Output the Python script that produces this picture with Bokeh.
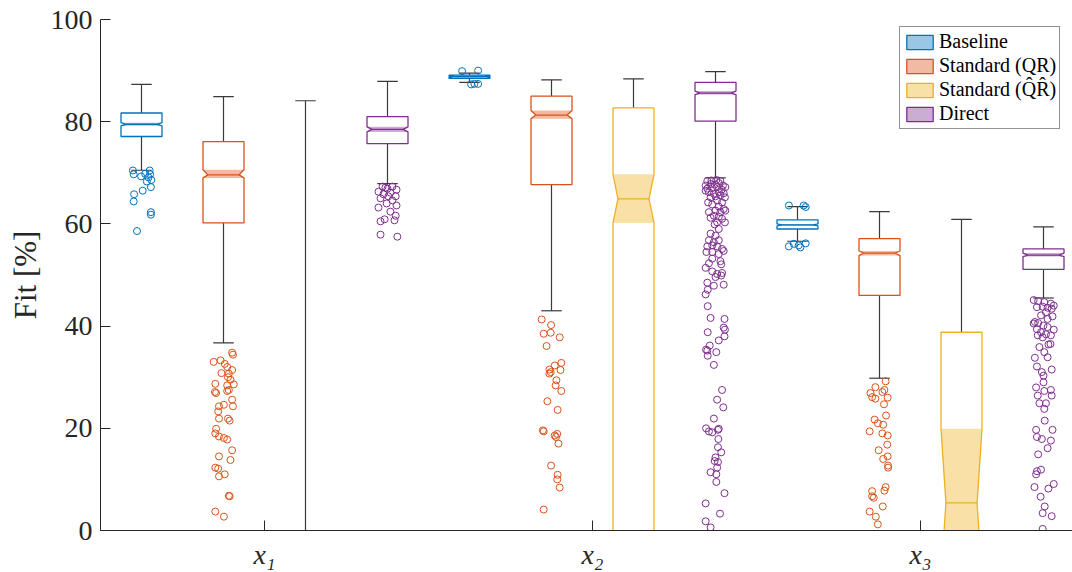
from bokeh.plotting import figure
from bokeh.models import Range1d, FixedTicker, Legend, LegendItem
from bokeh.embed import file_html
from bokeh.resources import INLINE

GROUPS = ["x₁", "x₂", "x₃"]
SERIES = ["Baseline", "Standard (QR)", "Standard (Q̂R̂)", "Direct"]
COLORS = ["#0072BD", "#D95319", "#EDB120", "#7E2F8E"]
Y_TICKS = [0, 20, 40, 60, 80, 100]
Y_LABEL = "Fit [%]"

# box statistics per series, one value per group (x1, x2, x3)
BASE_WLO = [70.5, 87.7, 56.6]
BASE_Q1 = [77.1, 88.5, 59.0]
BASE_NLO = [79.2, 88.75, 59.6]
BASE_MED = [79.5, 88.85, 59.8]
BASE_NHI = [79.8, 88.95, 60.0]
BASE_Q3 = [81.7, 89.1, 60.8]
BASE_WHI = [87.3, 89.5, 63.4]

QR_WLO = [36.7, 43.0, 29.8]
QR_Q1 = [60.2, 67.7, 46.0]
QR_NLO = [69.0, 80.6, 53.8]
QR_MED = [69.6, 81.3, 54.3]
QR_NHI = [70.6, 82.2, 54.7]
QR_Q3 = [76.1, 85.0, 57.1]
QR_WHI = [84.9, 88.2, 62.4]

QRH_WLO = [-60.0, -40.0, -35.0]
QRH_Q1 = [-45.0, -25.0, -20.0]
QRH_NLO = [-30.0, 60.2, -9.1]
QRH_MED = [-22.0, 64.9, 5.4]
QRH_NHI = [-14.0, 69.7, 19.9]
QRH_Q3 = [-5.0, 82.7, 38.8]
QRH_WHI = [84.1, 88.4, 60.9]

DIR_WLO = [67.9, 69.0, 45.5]
DIR_Q1 = [75.7, 80.1, 51.1]
DIR_NLO = [78.0, 85.3, 53.6]
DIR_MED = [78.5, 85.6, 53.9]
DIR_NHI = [79.0, 86.0, 54.3]
DIR_Q3 = [81.0, 87.7, 55.1]
DIR_WHI = [87.9, 89.8, 59.4]

# outliers: values and horizontal jitter (fraction of box width)
BASE_X1_OUT = [70.45, 70.45, 69.7, 69.3, 69.8, 69.7, 69.1, 68.3, 68.6, 66.5, 67.2, 65.8, 64.4, 62.3, 61.8, 58.6]
BASE_X1_JIT = [-0.21, 0.20, -0.19, -0.01, 0.09, 0.21, 0.17, 0.13, 0.24, 0.03, 0.23, -0.18, -0.19, 0.23, 0.23, -0.11]
BASE_X2_OUT = [89.9, 90.0, 87.3, 87.4, 87.4]
BASE_X2_JIT = [-0.18, 0.21, 0.04, 0.12, 0.21]
BASE_X3_OUT = [63.6, 63.6, 63.3, 55.6, 56.1, 55.8, 56.2, 55.4]
BASE_X3_JIT = [-0.21, 0.15, 0.20, -0.21, -0.09, 0.03, 0.20, 0.07]

QR_X1_OUT = [34.8, 34.4, 33.0, 33.3, 32.6, 32.0, 31.4, 30.8, 30.7, 30.0, 29.5, 28.7, 28.6, 28.4,
             27.5, 27.3, 27.1, 26.9, 25.6, 24.3, 24.3, 24.6, 23.3, 21.9, 21.9, 21.5, 19.9, 19.0,
             18.4, 18.1, 17.8, 15.7, 14.5, 13.8, 12.3, 12.1, 10.6, 11.0, 6.8, 6.7, 3.7, 2.7]
QR_X1_JIT = [0.21, 0.23, -0.24, -0.07, 0.03, 0.09, 0.21, -0.05, 0.13, 0.11, 0.17, -0.20, 0.25, 0.09,
             0.13, 0.09, -0.21, -0.18, 0.21, 0.23, -0.11, 0.01, -0.13, -0.11, 0.11, 0.15, -0.18, -0.20,
             -0.11, 0.01, 0.09, 0.21, -0.11, 0.17, -0.20, -0.13, -0.11, 0.03, 0.13, 0.15, -0.20, 0.01]
QR_X2_OUT = [41.3, 40.2, 38.5, 38.7, 37.8, 36.1, 32.8, 32.3, 31.5, 31.0, 31.4, 30.7, 29.4, 28.4,
             27.3, 25.3, 23.6, 19.6, 19.4, 18.6, 18.9, 18.3, 17.0, 12.7, 10.9, 10.0, 8.4, 4.1]
QR_X2_JIT = [-0.24, -0.01, -0.19, -0.02, 0.20, -0.12, 0.24, 0.08, -0.05, -0.02, 0.22, -0.05, 0.12, 0.10,
             0.24, -0.10, 0.15, -0.21, -0.19, 0.08, 0.14, 0.11, 0.17, -0.01, 0.15, 0.14, 0.20, -0.19]
QR_X3_OUT = [29.2, 28.05, 26.9, 26.1, 27.1, 27.5, 25.8, 26.0, 24.7, 22.5, 21.7, 21.0, 20.7, 19.4,
             19.0, 18.6, 16.8, 15.7, 14.5, 14.0, 12.7, 12.3, 8.5, 7.8, 7.7, 6.4, 6.7, 4.7, 3.7, 2.7, 1.2]
QR_X3_JIT = [0.15, -0.10, -0.22, -0.18, 0.07, 0.12, -0.10, 0.20, 0.11, 0.16, -0.12, -0.04, 0.09, -0.24,
             0.07, 0.20, 0.19, -0.02, 0.20, 0.09, 0.21, 0.21, 0.15, 0.12, -0.18, -0.14, -0.18, 0.08, -0.24, -0.09, -0.04]

DIR_X1_OUT = [67.3, 67.3, 66.9, 66.7, 66.3, 66.1, 65.8, 65.4, 65.0, 64.6, 64.0, 63.6, 63.2, 62.4,
              61.6, 60.9, 60.5, 60.7, 57.9, 57.5, 65.4, 67.1]
DIR_X1_JIT = [-0.12, 0.12, 0.00, 0.22, -0.22, 0.07, -0.10, 0.20, -0.17, 0.12, -0.02, 0.22, -0.22, 0.07,
              0.20, -0.07, -0.17, 0.17, -0.17, 0.24, 0.02, -0.05]
DIR_X2_OUT = [68.4, 68.5, 68.6, 68.4, 67.5, 67.8, 67.7, 68.0, 67.5, 66.9, 67.0, 67.2, 66.7, 67.2,
              66.2, 65.9, 66.2, 66.0, 66.5, 65.2, 65.4, 65.6, 65.2, 64.2, 64.6, 64.2, 63.8, 63.4,
              62.9, 62.6, 62.3, 62.3, 62.6, 61.6, 61.4, 61.2, 61.0, 60.3, 60.3, 59.9, 59.0, 58.1,
              57.7, 56.8, 56.4, 56.8, 55.6, 55.8, 55.6, 55.1,
              54.5, 54.5, 54.7, 54.1, 53.2, 52.3, 52.7, 52.1, 51.4, 50.7, 50.2, 49.6, 50.4, 49.9,
              48.5, 47.9, 48.1, 47.1, 46.2, 43.9, 41.6, 41.4, 39.7, 39.3, 38.0, 37.2, 38.8, 36.2,
              35.4, 35.2, 34.9, 34.2, 32.4, 27.5, 25.6, 24.1, 21.9, 20.0, 19.4, 19.2, 19.9, 19.7,
              17.9, 16.3, 15.3, 14.3, 13.6, 13.4, 12.3, 11.4, 11.0, 9.5, 7.3, 5.3, 3.3, 1.8, 0.6]
DIR_X2_JIT = [-0.20, -0.10, 0.02, 0.12, -0.24, -0.12, -0.02, 0.08, 0.18, -0.20, -0.08, 0.04, 0.15, 0.24,
              -0.16, -0.04, 0.08, 0.20, -0.24, -0.12, 0.00, 0.12, 0.23, -0.18, 0.04, 0.16, -0.08, 0.08,
              0.20, 0.00, -0.16, 0.12, 0.24, -0.04, 0.08, -0.12, 0.16, 0.04, 0.23, -0.02, 0.08, -0.12,
              0.00, -0.16, -0.04, 0.08, -0.20, -0.08, 0.04, 0.16,
              -0.22, -0.08, 0.20, 0.08, -0.08, -0.16, 0.12, 0.14, -0.24, -0.08, 0.04, 0.00, 0.16, 0.14,
              -0.20, -0.04, 0.20, -0.19, -0.24, -0.19, -0.12, 0.22, 0.20, 0.23, 0.22, 0.08, -0.19, -0.14,
              -0.23, -0.20, 0.02, -0.19, -0.04, 0.16, 0.04, 0.19, -0.04, -0.23, -0.16, -0.08, 0.08, 0.06,
              0.07, 0.06, 0.14, 0.00, -0.02, 0.06, 0.04, -0.12, 0.02, 0.02, 0.22, -0.24, 0.11, -0.24, -0.12]
DIR_X3_OUT = [45.1, 44.9, 44.7, 44.4, 44.0, 43.7, 43.8, 43.6, 43.4, 42.7, 42.1, 41.9, 41.4, 40.8,
              40.5, 40.6, 40.1, 39.8, 39.4, 39.3, 38.8, 38.4, 38.2, 38.2, 37.8, 35.9, 36.4, 34.9,
              36.5, 33.8, 33.9, 32.1, 31.5, 31.0, 30.3,
              28.0, 29.0, 27.5, 26.4, 26.4, 27.3, 24.9, 24.9, 23.8, 21.5, 19.7, 19.7, 18.3, 17.9,
              17.6, 16.1, 14.9, 11.6, 11.9, 11.0, 8.5, 8.2, 9.1, 6.6, 4.7, 3.4, 2.8, 0.3]
DIR_X3_JIT = [-0.24, -0.13, 0.02, 0.18, 0.25, -0.16, -0.02, 0.10, 0.20, 0.06, -0.06, 0.22, 0.10, -0.21,
              -0.24, -0.13, 0.00, 0.10, -0.16, 0.25, -0.06, 0.06, 0.18, -0.14, -0.02, -0.10, 0.12, 0.02,
              0.17, -0.21, 0.10, -0.16, 0.20, -0.04, 0.00,
              -0.18, 0.00, 0.18, -0.14, 0.20, 0.02, -0.10, 0.06, 0.02, 0.03, -0.18, 0.22, -0.16, -0.04,
              0.18, 0.10, -0.13, -0.16, -0.06, -0.18, -0.22, 0.12, 0.25, -0.07, 0.03, -0.02, 0.20, -0.02]

STATS = [
    (BASE_WLO, BASE_Q1, BASE_NLO, BASE_MED, BASE_NHI, BASE_Q3, BASE_WHI),
    (QR_WLO, QR_Q1, QR_NLO, QR_MED, QR_NHI, QR_Q3, QR_WHI),
    (QRH_WLO, QRH_Q1, QRH_NLO, QRH_MED, QRH_NHI, QRH_Q3, QRH_WHI),
    (DIR_WLO, DIR_Q1, DIR_NLO, DIR_MED, DIR_NHI, DIR_Q3, DIR_WHI),
]
OUTLIERS = [
    [(BASE_X1_OUT, BASE_X1_JIT), (BASE_X2_OUT, BASE_X2_JIT), (BASE_X3_OUT, BASE_X3_JIT)],
    [(QR_X1_OUT, QR_X1_JIT), (QR_X2_OUT, QR_X2_JIT), (QR_X3_OUT, QR_X3_JIT)],
    [([], []), ([], []), ([], [])],
    [(DIR_X1_OUT, DIR_X1_JIT), (DIR_X2_OUT, DIR_X2_JIT), (DIR_X3_OUT, DIR_X3_JIT)],
]

# ---- layout / style ----
FONT = "Liberation Serif"
TEXT = "#262626"
WHISK = "#3a3a3a"
BOX_W = 0.125
OFFSETS = [-0.375, -0.125, 0.125, 0.375]
INDENT = 0.24  # notch indent as fraction of half box width

W, H = 1072, 572
LEFT, TOP, BOTTOM = 100, 19, 42
FRAME_W = W - LEFT
PX_PER_X = 328.0
X0 = 0.5
p = figure(width=W, height=H, output_backend="svg", toolbar_location=None,
           x_range=Range1d(X0, X0 + FRAME_W / PX_PER_X), y_range=Range1d(0, 100),
           min_border_left=LEFT, min_border_right=0, min_border_top=TOP, min_border_bottom=BOTTOM)
p.outline_line_color = None
p.xgrid.visible = False
p.ygrid.visible = False
p.background_fill_color = "white"

legend_items = []
for s in range(4):
    wlo, q1, nlo, med, nhi, q3, whi = STATS[s]
    col = COLORS[s]
    box_xs, box_ys, n_xs, n_ys = [], [], [], []
    mx0, mx1, my = [], [], []
    sx0, sy0, sx1, sy1 = [], [], [], []
    ox, oy = [], []
    for g in range(3):
        c = g + 1 + OFFSETS[s]
        h = BOX_W / 2
        d = INDENT * h
        box_xs.append([c - h, c - h, c - h + d, c - h, c - h, c + h, c + h, c + h - d, c + h, c + h])
        box_ys.append([q1[g], nlo[g], med[g], nhi[g], q3[g], q3[g], nhi[g], med[g], nlo[g], q1[g]])
        n_xs.append([c - h, c - h + d, c - h, c + h, c + h - d, c + h])
        n_ys.append([nlo[g], med[g], nhi[g], nhi[g], med[g], nlo[g]])
        mx0.append(c - h + d); mx1.append(c + h - d); my.append(med[g])
        # whiskers and caps
        sx0 += [c, c, c - h / 2, c - h / 2]
        sx1 += [c, c, c + h / 2, c + h / 2]
        sy0 += [q3[g], wlo[g], whi[g], wlo[g]]
        sy1 += [whi[g], q1[g], whi[g], wlo[g]]
        vals, jit = OUTLIERS[s][g]
        for v, j in zip(vals, jit):
            ox.append(c + j * BOX_W)
            oy.append(v)
    p.segment(x0=sx0, y0=sy0, x1=sx1, y1=sy1, line_color=WHISK, line_width=1.2)
    p.patches(xs=n_xs, ys=n_ys, fill_color=col, fill_alpha=0.4, line_color=None)
    p.patches(xs=box_xs, ys=box_ys, fill_color=None, line_color=col, line_width=1.3)
    p.segment(x0=mx0, y0=my, x1=mx1, y1=my, line_color=col, line_width=1.3)
    p.scatter(x=ox, y=oy, marker="circle", size=7, fill_color=None, line_color=col, line_width=1)
    # legend swatch renderer (degenerate, placed below the visible range)
    c0 = 1 + OFFSETS[s]
    sw = p.quad(left=[c0], right=[c0], bottom=[-50], top=[-50],
                fill_color=col, fill_alpha=0.4, line_color=col, line_width=1.3)
    legend_items.append(LegendItem(label=SERIES[s], renderers=[sw]))

legend = Legend(items=legend_items, location=(799, 401), orientation="vertical",
                label_text_font=FONT, label_text_font_size="20px", label_text_color="black",
                glyph_width=33, glyph_height=18, label_height=20, label_standoff=3,
                spacing=1, padding=3, margin=0,
                border_line_color="#262626", border_line_width=1,
                background_fill_color="white", background_fill_alpha=1)
p.add_layout(legend, "center")

# axes
for ax in (p.xaxis[0], p.yaxis[0]):
    ax.axis_line_color = TEXT
    ax.axis_line_width = 1
    ax.major_tick_line_color = TEXT
    ax.major_tick_in = 10
    ax.major_tick_out = 0
    ax.minor_tick_line_color = None
    ax.major_label_text_font = FONT
    ax.major_label_text_color = TEXT

p.yaxis.ticker = FixedTicker(ticks=Y_TICKS)
p.yaxis.major_label_text_font_size = "28px"
p.yaxis.major_label_standoff = 8
p.yaxis.axis_label = Y_LABEL
p.yaxis.axis_label_text_font = FONT
p.yaxis.axis_label_text_font_style = "normal"
p.yaxis.axis_label_text_font_size = "31px"
p.yaxis.axis_label_text_color = TEXT
p.yaxis.axis_label_standoff = 5

p.xaxis.ticker = FixedTicker(ticks=[1, 2, 3])
p.xaxis.major_label_overrides = {i + 1: GROUPS[i] for i in range(3)}
p.xaxis.major_label_text_font_style = "italic"
p.xaxis.major_label_text_font_size = "28px"
p.xaxis.major_label_standoff = 8

open("out.html", "w").write(file_html(p, INLINE))
